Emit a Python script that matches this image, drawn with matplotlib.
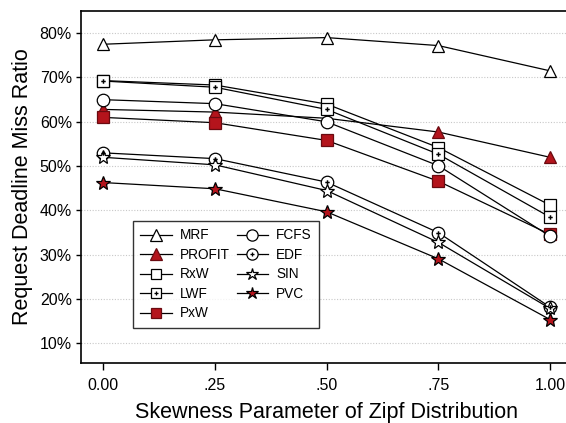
import matplotlib
matplotlib.use("Agg")
import matplotlib.pyplot as plt

plt.rcParams['font.family'] = ['Liberation Sans', 'DejaVu Sans']

x = [0.0, 0.25, 0.5, 0.75, 1.0]
xticklabels = ["0.00", ".25", ".50", ".75", "1.00"]
yticks = [10, 20, 30, 40, 50, 60, 70, 80]

mrf = [77.5, 78.5, 79.0, 77.2, 71.5]
profit = [62.8, 62.2, 60.8, 57.7, 52.0]
rxw = [69.3, 68.3, 64.0, 54.2, 41.2]
lwf = [69.2, 67.8, 62.8, 52.7, 38.5]
pxw = [61.0, 59.8, 55.8, 46.6, 34.6]
fcfs = [65.0, 64.1, 60.0, 50.1, 34.2]
edf = [53.0, 51.7, 46.4, 35.0, 18.2]
sin = [52.0, 50.3, 44.5, 32.8, 17.9]
pvc = [46.3, 44.9, 39.7, 29.1, 15.4]

RED = '#b4141c'
REDEDGE = '#6a0a10'

fig = plt.figure(figsize=(5.66, 4.23), dpi=100)
ax = fig.add_axes([81/566, 60/423, 491.4/566, 352/423])

lw = 0.9

def line(data, marker, face, edge='black', size=8, dot=False, z=3):
    h = ax.plot(x, data, color='black', lw=lw, marker=marker, markersize=size,
                markerfacecolor=face, markeredgecolor=edge, markeredgewidth=0.9, zorder=z)[0]
    if dot:
        d = ax.plot(x, data, ls='none', marker='P', markersize=3.2, color='black',
                    markeredgewidth=0, zorder=z + 0.5)[0]
        return (h, d)
    return h

h_mrf = line(mrf, '^', 'white', size=9)
h_profit = line(profit, '^', RED, edge=REDEDGE, size=9)
h_pxw = line(pxw, 's', RED, edge=REDEDGE, size=8)
h_rxw = line(rxw, 's', 'white', size=8)
h_lwf = line(lwf, 's', 'white', size=8, dot=True)
h_fcfs = line(fcfs, 'o', 'white', size=9)
h_edf = line(edf, 'o', 'white', size=9, dot=True)
h_sin = line(sin, '*', 'white', size=10)
h_pvc = line(pvc, '*', RED, edge='black', size=10)

ax.set_xlim(-0.05, 1.05)
ax.set_ylim(5.6, 85.0)
ax.set_xticks(x)
ax.set_xticklabels(xticklabels)
ax.set_yticks(yticks)
ax.set_yticklabels([f"{v}%" for v in yticks])
ax.tick_params(axis='both', labelsize=11.5, direction='out', width=1)
ax.tick_params(axis='y', length=3.5, pad=3)
ax.tick_params(axis='x', length=5, pad=6)
ax.yaxis.grid(True, linestyle=(0, (1, 1.5)), color='#c8c8c8', lw=0.8)
ax.set_axisbelow(True)
for s in ['left', 'bottom', 'top']:
    ax.spines[s].set_linewidth(1.2)
ax.spines['right'].set_visible(False)

ax.set_xlabel("Skewness Parameter of Zipf Distribution", fontsize=15.5, labelpad=6)
ax.set_ylabel("Request Deadline Miss Ratio", fontsize=15.5, labelpad=5)

handles = [h_mrf, h_profit, h_rxw, h_lwf, h_pxw, h_fcfs, h_edf, h_sin, h_pvc]
labels = ["MRF", "PROFIT", "RxW", "LWF", "PxW", "FCFS", "EDF", "SIN", "PVC"]
leg = ax.legend(handles, labels, ncol=2, loc='upper left',
                bbox_to_anchor=((133-81)/491.4, (363-221)/352),
                borderaxespad=0,
                fontsize=9.8, frameon=True, fancybox=False, edgecolor='black',
                handlelength=2.3, columnspacing=0.5, handletextpad=0.6,
                labelspacing=0.4, borderpad=0.55, markerscale=0.9)
leg.get_frame().set_linewidth(1.0)

fig.savefig("out.png", dpi=100)
